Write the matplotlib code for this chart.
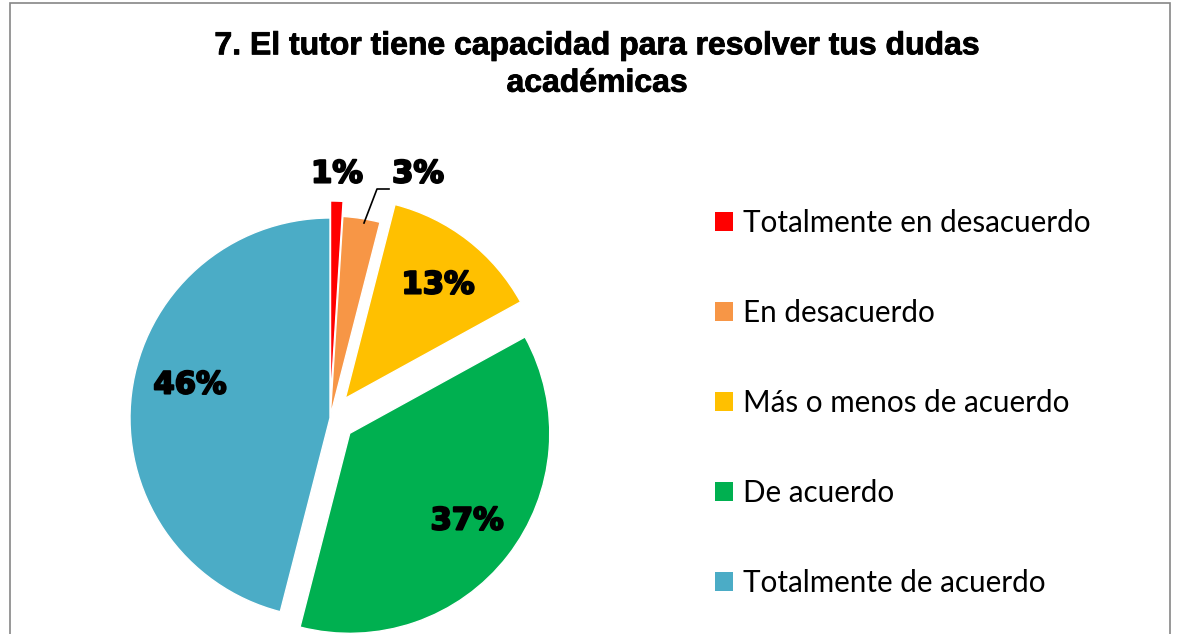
import numpy as np
import matplotlib.pyplot as plt
import matplotlib.patheffects as pe
from matplotlib.patches import Patch, Rectangle

# Datos de la pregunta 7
categorias = ['Totalmente en desacuerdo', 'En desacuerdo', 'Más o menos de acuerdo',
              'De acuerdo', 'Totalmente de acuerdo']
porcentajes = [1, 3, 13, 37, 46]
colores = ['#FF0000', '#F79646', '#FFC000', '#00B050', '#4BACC6']
titulo = '7. El tutor tiene capacidad para resolver tus dudas\nacadémicas'

W, H = 1177, 634
fig = plt.figure(figsize=(W / 100, H / 100), dpi=100)
ax = fig.add_axes([0, 0, 1, 1])

# Pastel en coordenadas de pixel (y hacia arriba); explode va en pixeles
centro = (330, H - 418)
radio = 200
explode = [17, 2, 25, 25, 0]
wedges, _ = ax.pie(porcentajes, colors=colores, startangle=90, counterclock=False,
                   explode=explode, center=centro, radius=radio,
                   wedgeprops=dict(edgecolor='white', linewidth=1))
ax.set_xlim(0, W)
ax.set_ylim(0, H)
ax.set_aspect('equal', adjustable='box')
ax.axis('off')

# Etiquetas de porcentaje
pos_etiquetas = [(337, 174), (418, 174), (438, 285), (467, 521), (190, 385)]
for p, (x, y) in zip(porcentajes, pos_etiquetas):
    ax.text(x, H - y, f'{p}%', ha='center', va='center', fontsize=22,
            fontweight='heavy', family='DejaVu Sans', color='black',
            path_effects=[pe.withStroke(linewidth=1.5, foreground='black')])

# Línea guía para 3%
ax.plot([364, 377, 389], [H - 223, H - 189, H - 189], color='black', lw=1.2)

# Título
fig.text(597 / W, 1 - 65 / H, titulo, ha='center', va='center', fontsize=23,
         fontweight='bold', family='Liberation Sans', linespacing=1.32,
         path_effects=[pe.withStroke(linewidth=0.6, foreground='black')])

# Leyenda
handles = [Patch(facecolor=c, edgecolor='none') for c in colores]
fig.legend(handles, categorias, loc='upper left', bbox_to_anchor=(700 / W, 1 - 194 / H),
           frameon=False, prop={'family': 'Lato', 'size': 21.3}, handlelength=0.6,
           handleheight=0.6, handletextpad=0.35, labelspacing=2.1, borderpad=0)

# Marco del gráfico
fig.patches.append(Rectangle((10 / W, -0.05), 1160 / W, 1.05 - 3 / H,
                             transform=fig.transFigure, fill=False,
                             edgecolor='#868686', linewidth=1.2))

fig.savefig('out.png', dpi=100)
